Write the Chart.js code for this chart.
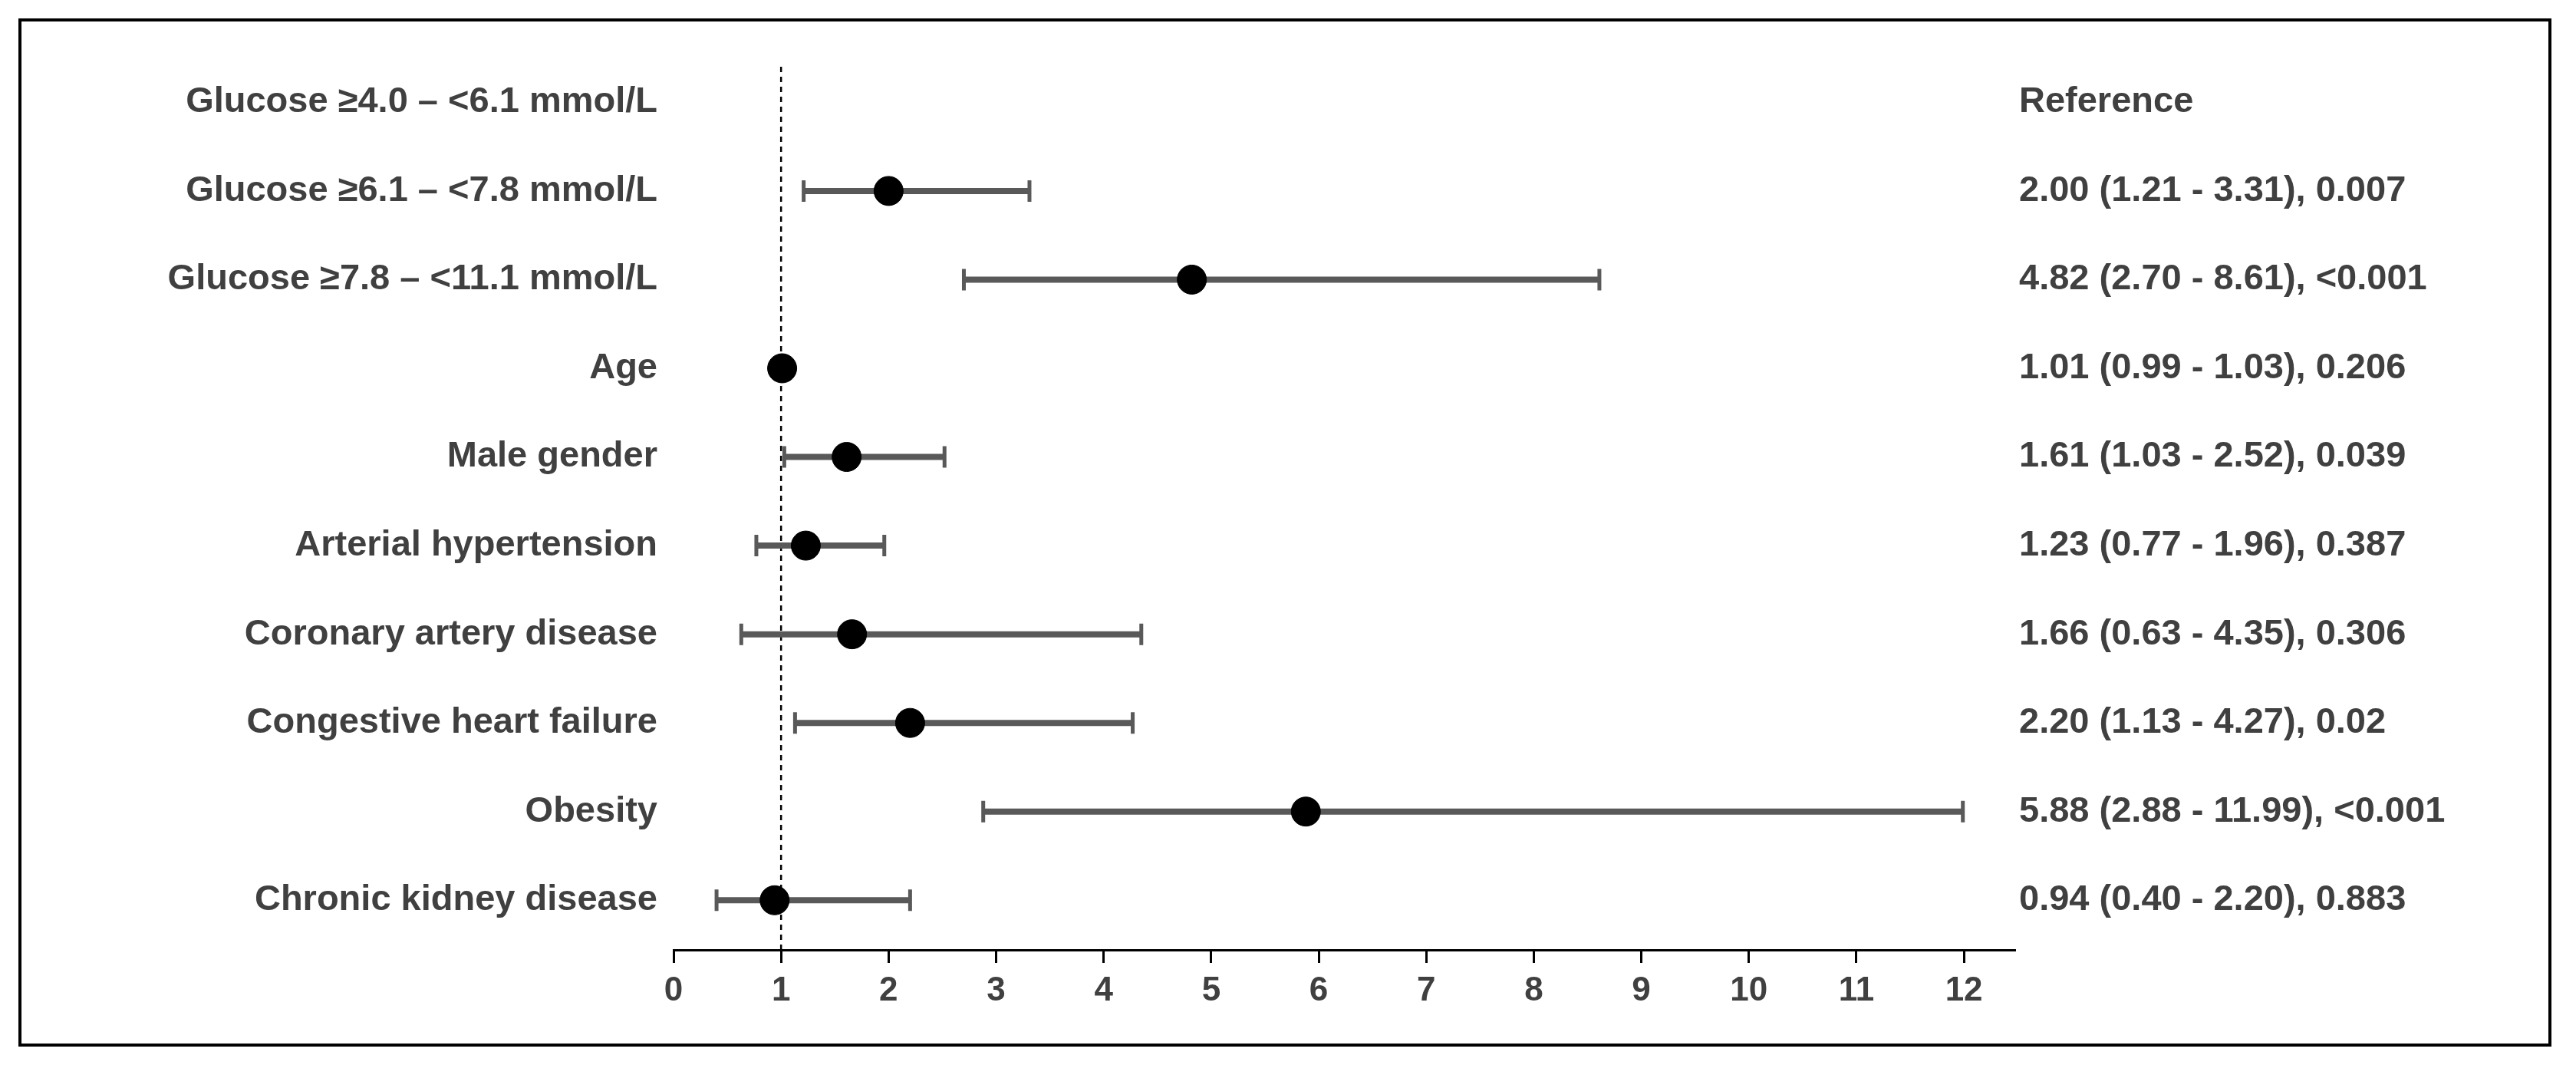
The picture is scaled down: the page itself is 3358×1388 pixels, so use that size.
<!DOCTYPE html>
<html>
<head>
<meta charset="utf-8">
<script src="https://cdn.jsdelivr.net/npm/chart.js@4/dist/chart.umd.min.js"></script>
<style>
  html, body { margin: 0; padding: 0; background: #fff; }
  #wrap { width: 3358px; height: 1388px; }
</style>
</head>
<body>
<div id="wrap"><canvas id="forest"></canvas></div>
<script>
// forest plot: odds ratio with 95% CI per row
const rowLabels = [
  'Glucose ≥4.0 – <6.1 mmol/L',
  'Glucose ≥6.1 – <7.8 mmol/L',
  'Glucose ≥7.8 – <11.1 mmol/L',
  'Age',
  'Male gender',
  'Arterial hypertension',
  'Coronary artery disease',
  'Congestive heart failure',
  'Obesity',
  'Chronic kidney disease',
];
const oddsRatio = [null, 2.00, 4.82, 1.01, 1.61, 1.23, 1.66, 2.20, 5.88, 0.94];
const ciLow     = [null, 1.21, 2.70, 0.99, 1.03, 0.77, 0.63, 1.13, 2.88, 0.40];
const ciHigh    = [null, 3.31, 8.61, 1.03, 2.52, 1.96, 4.35, 4.27, 11.99, 2.20];
const resultText = [
  'Reference',
  '2.00 (1.21 - 3.31), 0.007',
  '4.82 (2.70 - 8.61), <0.001',
  '1.01 (0.99 - 1.03), 0.206',
  '1.61 (1.03 - 2.52), 0.039',
  '1.23 (0.77 - 1.96), 0.387',
  '1.66 (0.63 - 4.35), 0.306',
  '2.20 (1.13 - 4.27), 0.02',
  '5.88 (2.88 - 11.99), <0.001',
  '0.94 (0.40 - 2.20), 0.883',
];
const xTicks = [0, 1, 2, 3, 4, 5, 6, 7, 8, 9, 10, 11, 12];

const FONT = 'bold 47px "Liberation Sans", Arial, sans-serif';
const TEXT = '#404040';

const forestPlugin = {
  id: 'forest',
  beforeDraw(chart) {
    const c = chart.ctx;
    c.save();
    c.fillStyle = '#fff';
    c.fillRect(0, 0, chart.width, chart.height);
    c.strokeStyle = '#000';
    c.lineWidth = 4;
    c.strokeRect(26, 26, 3298, 1336);
    c.restore();
  },
  beforeDatasetsDraw(chart) {
    const c = chart.ctx, x = chart.scales.x, y = chart.scales.y;
    c.save();
    // reference line at OR = 1
    c.strokeStyle = '#000';
    c.lineWidth = 2.5;
    c.setLineDash([7, 6]);
    c.beginPath();
    c.moveTo(x.getPixelForValue(1), y.getPixelForValue(-0.4));
    c.lineTo(x.getPixelForValue(1), y.bottom);
    c.stroke();
    c.setLineDash([]);
    // confidence intervals
    c.strokeStyle = '#595959';
    oddsRatio.forEach((v, i) => {
      if (v == null) return;
      const py = y.getPixelForValue(i);
      const x0 = x.getPixelForValue(ciLow[i]);
      const x1 = x.getPixelForValue(ciHigh[i]);
      c.lineWidth = 8;
      c.beginPath();
      c.moveTo(x0, py); c.lineTo(x1, py);
      c.stroke();
      c.lineWidth = 5;
      c.beginPath();
      c.moveTo(x0, py - 14); c.lineTo(x0, py + 14);
      c.moveTo(x1, py - 14); c.lineTo(x1, py + 14);
      c.stroke();
    });
    c.restore();
  },
  afterDraw(chart) {
    const c = chart.ctx, y = chart.scales.y;
    c.save();
    c.font = FONT;
    c.fillStyle = TEXT;
    c.textBaseline = 'middle';
    rowLabels.forEach((t, i) => {
      const py = y.getPixelForValue(i);
      c.textAlign = 'right';
      c.fillText(t, 857, py);
      c.textAlign = 'left';
      c.fillText(resultText[i], 2632, py);
    });
    c.restore();
  },
};

new Chart(document.getElementById('forest'), {
  type: 'scatter',
  data: {
    datasets: [{
      data: oddsRatio.map((v, i) => (v == null ? null : { x: v, y: i })).filter(Boolean),
      backgroundColor: '#000',
      borderColor: '#000',
      pointRadius: 19,
      pointHoverRadius: 19,
    }],
  },
  options: {
    responsive: true,
    maintainAspectRatio: false,
    animation: false,
    layout: { padding: { left: 878, right: 732, top: 64, bottom: 60 } },
    plugins: { legend: { display: false }, tooltip: { enabled: false } },
    scales: {
      x: {
        type: 'linear',
        min: 0,
        max: 12.47,
        afterBuildTicks: s => { s.ticks = xTicks.map(v => ({ value: v })); },
        afterFit: s => { s.height = 90; },
        grid: { drawOnChartArea: false, tickLength: 17, color: '#000', lineWidth: 3 },
        border: { color: '#000', width: 3 },
        ticks: { color: TEXT, font: { family: '"Liberation Sans", Arial, sans-serif', size: 44, weight: 'bold' }, padding: 10 },
      },
      y: {
        type: 'linear',
        reverse: true,
        min: -0.6,
        max: 9.56,
        display: false,
      },
    },
  },
  plugins: [forestPlugin],
});
</script>
</body>
</html>
